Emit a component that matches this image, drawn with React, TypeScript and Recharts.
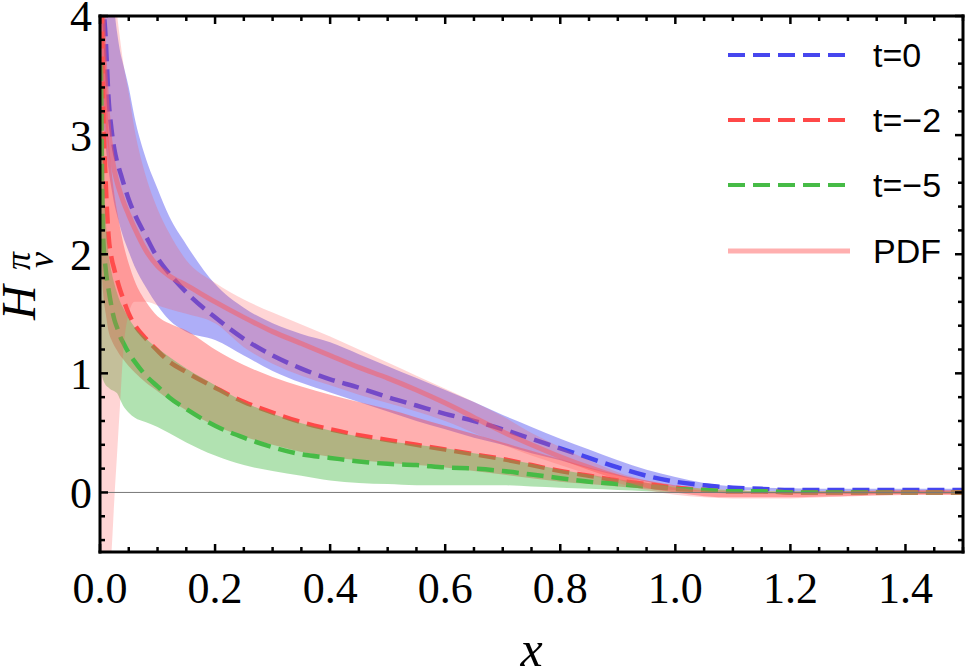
import {
  Area,
  ComposedChart,
  Legend,
  Line,
  ReferenceLine,
  XAxis,
  YAxis,
} from "recharts";

// sample points in x (denser near 0 where curves are steep)
const xs = [
  0.002, 0.005, 0.01, 0.015, 0.02, 0.025, 0.03, 0.035, 0.04, 0.05, 0.06, 0.08, 0.1, 0.12, 0.15,
  0.2, 0.25, 0.3, 0.35, 0.4, 0.45, 0.5, 0.55, 0.6, 0.65, 0.7, 0.75, 0.8, 0.85, 0.9, 0.95, 1.0,
  1.05, 1.1, 1.15, 1.2, 1.3, 1.4, 1.5,
];

// t = 0
const t0Line = [
  4.6, 4.2, 3.8, 3.3, 3.05, 2.88, 2.77, 2.69, 2.61, 2.46, 2.34, 2.15, 1.97, 1.84, 1.68,
  1.47, 1.29, 1.15, 1.04, 0.95, 0.88, 0.8, 0.73, 0.66, 0.6, 0.53, 0.45, 0.37, 0.29, 0.21, 0.14, 0.09,
  0.06, 0.04, 0.03, 0.02, 0.02, 0.02, 0.02,
];
const t0High = [
  6, 5.5, 5.0, 4.6, 4.3, 4.05, 3.85, 3.7, 3.6, 3.4, 3.15, 2.8, 2.55, 2.32, 2.08,
  1.75, 1.55, 1.42, 1.33, 1.26, 1.16, 1.06, 0.96, 0.86, 0.76, 0.65, 0.55, 0.45, 0.36, 0.27, 0.19, 0.13,
  0.08, 0.05, 0.04, 0.035, 0.03, 0.03, 0.03,
];
const t0Low = [
  3.5, 3.2, 2.9, 2.7, 2.55, 2.42, 2.32, 2.23, 2.15, 2.02, 1.9, 1.72, 1.57, 1.45, 1.35,
  1.28, 1.15, 1.02, 0.92, 0.84, 0.76, 0.68, 0.6, 0.53, 0.46, 0.4, 0.33, 0.27, 0.2, 0.14, 0.09, 0.05,
  0.03, 0.02, 0.015, 0.01, 0.01, 0.01, 0.01,
];

// t = -2
const t2Line = [
  4.5, 3.4, 2.6, 2.15, 1.97, 1.87, 1.78, 1.7, 1.63, 1.5, 1.41, 1.29, 1.19, 1.1, 1.01,
  0.88, 0.76, 0.67, 0.59, 0.53, 0.48, 0.44, 0.4, 0.36, 0.32, 0.28, 0.23, 0.18, 0.14, 0.1, 0.07, 0.04,
  0.02, 0.01, 0.01, 0.0, 0.0, 0.0, 0.0,
];
const t2High = [
  6, 4.5, 3.6, 3.0, 2.7, 2.5, 2.35, 2.22, 2.1, 1.92, 1.78, 1.6, 1.48, 1.42, 1.36,
  1.2, 1.07, 0.97, 0.89, 0.82, 0.76, 0.7, 0.63, 0.56, 0.49, 0.42, 0.35, 0.28, 0.21, 0.15, 0.1, 0.06,
  0.03, 0.02, 0.01, 0.01, 0.01, 0.01, 0.01,
];
const t2Low = [
  2.0, 1.7, 1.5, 1.35, 1.28, 1.23, 1.19, 1.15, 1.12, 1.06, 1.01, 0.92, 0.85, 0.78, 0.69,
  0.56, 0.47, 0.4, 0.34, 0.3, 0.27, 0.25, 0.23, 0.21, 0.18, 0.15, 0.12, 0.09, 0.07, 0.05, 0.03, 0.02,
  0.01, 0.0, 0.0, -0.01, -0.01, -0.01, -0.01,
];

// t = -5
const t5Line = [
  3.6, 2.2, 1.87, 1.7, 1.56, 1.45, 1.38, 1.31, 1.26, 1.17, 1.1, 0.98, 0.89, 0.8, 0.7,
  0.56, 0.46, 0.38, 0.32, 0.29, 0.26, 0.24, 0.23, 0.21, 0.2, 0.18, 0.15, 0.12, 0.09, 0.07, 0.05, 0.03,
  0.02, 0.01, 0.01, 0.0, 0.0, 0.0, 0.0,
];
const t5High = [
  4.5, 3.0, 2.3, 2.0, 1.85, 1.75, 1.67, 1.6, 1.55, 1.46, 1.39, 1.29, 1.21, 1.14, 1.04,
  0.9, 0.76, 0.66, 0.58, 0.52, 0.47, 0.43, 0.4, 0.37, 0.33, 0.29, 0.24, 0.19, 0.15, 0.11, 0.08, 0.05,
  0.03, 0.02, 0.01, 0.01, 0.01, 0.01, 0.01,
];
const t5Low = [
  1.0, 0.95, 0.9, 0.88, 0.86, 0.85, 0.83, 0.78, 0.73, 0.67, 0.63, 0.59, 0.55, 0.5, 0.42,
  0.31, 0.23, 0.18, 0.14, 0.1, 0.08, 0.07, 0.06, 0.06, 0.06, 0.06, 0.05, 0.04, 0.03, 0.02, 0.01, 0.0,
  0.0, -0.01, -0.01, -0.01, -0.01, -0.01, -0.01,
];

// PDF
const pdfLine = [
  5, 4.0, 3.4, 3.05, 2.85, 2.7, 2.6, 2.52, 2.45, 2.33, 2.22, 2.03, 1.9, 1.82, 1.74,
  1.6, 1.47, 1.35, 1.25, 1.15, 1.05, 0.96, 0.86, 0.75, 0.63, 0.51, 0.4, 0.3, 0.21, 0.13, 0.06, 0.02,
  -0.01, -0.02, -0.02, -0.02, -0.01, 0.0, 0.0,
];
const pdfHigh = [
  7, 6, 5.2, 4.8, 4.5, 4.25, 4.0, 3.8, 3.62, 3.35, 3.05, 2.65, 2.38, 2.18, 1.95,
  1.76, 1.62, 1.51, 1.41, 1.31, 1.2, 1.09, 0.98, 0.87, 0.76, 0.64, 0.5, 0.38, 0.27, 0.17, 0.1, 0.05,
  0.02, 0.01, 0.0, 0.0, 0.0, 0.01, 0.01,
];
const pdfLow = [
  -1, -1, -1, -0.8, -0.5, -0.05, 0.35, 0.75, 1.15, 1.5, 1.6, 1.6, 1.57, 1.54, 1.5,
  1.42, 1.22, 1.08, 0.98, 0.9, 0.82, 0.75, 0.68, 0.6, 0.5, 0.4, 0.31, 0.23, 0.15, 0.08, 0.02, -0.02,
  -0.04, -0.05, -0.05, -0.05, -0.03, -0.01, -0.01,
];

const xTicks = [
  0, 0.05, 0.1, 0.15, 0.2, 0.25, 0.3, 0.35, 0.4, 0.45, 0.5, 0.55, 0.6, 0.65, 0.7, 0.75, 0.8,
  0.85, 0.9, 0.95, 1.0, 1.05, 1.1, 1.15, 1.2, 1.25, 1.3, 1.35, 1.4, 1.45, 1.5,
];
const xMajorTicks = [0, 0.2, 0.4, 0.6, 0.8, 1.0, 1.2, 1.4];
const yTicks = [
  -0.4, -0.2, 0, 0.2, 0.4, 0.6, 0.8, 1, 1.2, 1.4, 1.6, 1.8, 2, 2.2, 2.4, 2.6, 2.8, 3, 3.2, 3.4,
  3.6, 3.8, 4,
];
const yMajorTicks = [0, 1, 2, 3, 4];

const BLUE = "#4646ee";
const RED = "#ff4848";
const GREEN = "#46bb46";
const PDF_COLOR = "#ff5858";
const SERIF = "'Liberation Serif', 'Times New Roman', serif";
const SANS = "'Liberation Sans', Arial, sans-serif";

const legendItems = [
  { name: "t=0", color: BLUE, dash: "17 8", width: 4, opacity: 1, len: 117 },
  { name: "t=\u22122", color: RED, dash: "17 8", width: 4, opacity: 1, len: 117 },
  { name: "t=\u22125", color: GREEN, dash: "17 8", width: 4, opacity: 1, len: 117 },
  { name: "PDF", color: PDF_COLOR, dash: undefined, width: 5, opacity: 0.48, len: 124 },
];

const data = xs.map((x, i) => ({
  x,
  t0: t0Line[i],
  t0Band: [t0Low[i], t0High[i]],
  t2: t2Line[i],
  t2Band: [t2Low[i], t2High[i]],
  t5: t5Line[i],
  t5Band: [t5Low[i], t5High[i]],
  pdf: pdfLine[i],
  pdfBand: [pdfLow[i], pdfHigh[i]],
}));

const MAJOR_LEN = 8;
const MINOR_LEN = 5;
const isMajor = (v: number, majors: number[]) => majors.some((m) => Math.abs(m - v) < 1e-6);

function BottomTick(props: any) {
  const { x, y, payload } = props;
  const major = isMajor(payload.value, xMajorTicks);
  return (
    <g>
      <line x1={x} x2={x} y1={y} y2={y - (major ? MAJOR_LEN : MINOR_LEN)} stroke="#000" strokeWidth={2.5} />
      {major && (
        <text x={x} y={y + 20} dy="0.71em" textAnchor="middle" fontFamily={SERIF} fontSize={44} fill="#000">
          {payload.value.toFixed(1)}
        </text>
      )}
    </g>
  );
}

function TopTick(props: any) {
  const { x, y, payload } = props;
  const major = isMajor(payload.value, xMajorTicks);
  return <line x1={x} x2={x} y1={y} y2={y + (major ? MAJOR_LEN : MINOR_LEN)} stroke="#000" strokeWidth={2.5} />;
}

function LeftTick(props: any) {
  const { x, y, payload } = props;
  const major = isMajor(payload.value, yMajorTicks);
  return (
    <g>
      <line x1={x} x2={x + (major ? MAJOR_LEN : MINOR_LEN)} y1={y} y2={y} stroke="#000" strokeWidth={2.5} />
      {major && (
        <text x={x - 8} y={y} dy="0.35em" textAnchor="end" fontFamily={SERIF} fontSize={44} fill="#000">
          {payload.value}
        </text>
      )}
    </g>
  );
}

function RightTick(props: any) {
  const { x, y, payload } = props;
  const major = isMajor(payload.value, yMajorTicks);
  return <line x1={x} x2={x - (major ? MAJOR_LEN : MINOR_LEN)} y1={y} y2={y} stroke="#000" strokeWidth={2.5} />;
}

function XLabel(props: any) {
  const vb = props.viewBox;
  return (
    <text x={vb.x + vb.width / 2} y={vb.y + vb.height - 6} textAnchor="middle" fontFamily={SERIF} fontStyle="italic" fontSize={50} fill="#000">
      x
    </text>
  );
}

function YLabel(props: any) {
  const vb = props.viewBox;
  const cx = vb.x + 35;
  const cy = vb.y + vb.height / 2;
  return (
    <text transform={`rotate(-90 ${cx} ${cy})`} fontFamily={SERIF} fontStyle="italic" fill="#000">
      <tspan x={cx - 36} y={cy} fontSize={48}>H</tspan>
      <tspan x={cx + 14} y={cy - 5} fontSize={36}>π</tspan>
      <tspan x={cx + 16} y={cy + 18} fontSize={36}>v</tspan>
    </text>
  );
}

function renderLegend() {
  return (
    <div>
      {legendItems.map((it) => (
        <div key={it.name} style={{ height: 65.3, display: "flex", alignItems: "center" }}>
          <svg width={130} height={12} style={{ display: "block" }}>
            <line
              x1={8}
              x2={8 + it.len}
              y1={6}
              y2={6}
              stroke={it.color}
              strokeOpacity={it.opacity}
              strokeWidth={it.width}
              strokeDasharray={it.dash}
            />
          </svg>
          <span style={{ marginLeft: 23, fontFamily: SANS, fontSize: 34, color: "#000", lineHeight: 1 }}>{it.name}</span>
        </div>
      ))}
    </div>
  );
}

const frame = { stroke: "#000", strokeWidth: 3, strokeLinecap: "square" as const };

export default function App() {
  return (
    <div style={{ position: "absolute", left: 0, top: 0 }}>
      <ComposedChart width={968} height={672} data={data} margin={{ top: 15, right: 4, bottom: 0, left: 0 }}>
        <XAxis
          xAxisId="x"
          dataKey="x"
          type="number"
          domain={[0, 1.5]}
          ticks={xTicks}
          interval={0}
          allowDataOverflow
          height={120}
          tickSize={0}
          tickMargin={0}
          tickLine={false}
          axisLine={frame}
          tick={BottomTick}
          label={XLabel}
        />
        <XAxis
          xAxisId="top"
          dataKey="x"
          orientation="top"
          type="number"
          domain={[0, 1.5]}
          ticks={xTicks}
          interval={0}
          allowDataOverflow
          height={1}
          tickSize={0}
          tickMargin={0}
          tickLine={false}
          axisLine={frame}
          tick={TopTick}
        />
        <YAxis
          yAxisId="y"
          type="number"
          domain={[-0.5, 4]}
          ticks={yTicks}
          interval={0}
          allowDataOverflow
          width={100}
          tickSize={0}
          tickMargin={0}
          tickLine={false}
          axisLine={frame}
          tick={LeftTick}
          label={YLabel}
        />
        <YAxis
          yAxisId="right"
          orientation="right"
          type="number"
          domain={[-0.5, 4]}
          ticks={yTicks}
          interval={0}
          allowDataOverflow
          width={1}
          tickSize={0}
          tickMargin={0}
          tickLine={false}
          axisLine={frame}
          tick={RightTick}
        />
        <Legend
          layout="vertical"
          align="center"
          verticalAlign="middle"
          content={renderLegend}
          wrapperStyle={{ left: 720, top: 22, width: 240 }}
        />

        <Area xAxisId="x" yAxisId="y" type="monotone" dataKey="t0Band" stroke="none" fill={BLUE} fillOpacity={0.44} isAnimationActive={false} zIndex={101} />
        <Line xAxisId="x" yAxisId="y" type="monotone" dataKey="t0" stroke={BLUE} strokeWidth={4.5} strokeDasharray="17 8" dot={false} activeDot={false} isAnimationActive={false} zIndex={102} />
        <Area xAxisId="x" yAxisId="y" type="monotone" dataKey="t2Band" stroke="none" fill={RED} fillOpacity={0.44} isAnimationActive={false} zIndex={103} />
        <Line xAxisId="x" yAxisId="y" type="monotone" dataKey="t2" stroke={RED} strokeWidth={4.5} strokeDasharray="17 8" dot={false} activeDot={false} isAnimationActive={false} zIndex={104} />
        <Area xAxisId="x" yAxisId="y" type="monotone" dataKey="t5Band" stroke="none" fill={GREEN} fillOpacity={0.42} isAnimationActive={false} zIndex={105} />
        <Line xAxisId="x" yAxisId="y" type="monotone" dataKey="t5" stroke={GREEN} strokeWidth={4.5} strokeDasharray="17 8" dot={false} activeDot={false} isAnimationActive={false} zIndex={106} />
        <Area xAxisId="x" yAxisId="y" type="monotone" dataKey="pdfBand" stroke="none" fill={PDF_COLOR} fillOpacity={0.25} isAnimationActive={false} zIndex={107} />
        <Line xAxisId="x" yAxisId="y" type="monotone" dataKey="pdf" stroke={PDF_COLOR} strokeOpacity={0.48} strokeWidth={5} dot={false} activeDot={false} isAnimationActive={false} zIndex={108} />
        <ReferenceLine xAxisId="x" yAxisId="y" y={0} stroke="#777" strokeWidth={1} zIndex={109} />
      </ComposedChart>
    </div>
  );
}
